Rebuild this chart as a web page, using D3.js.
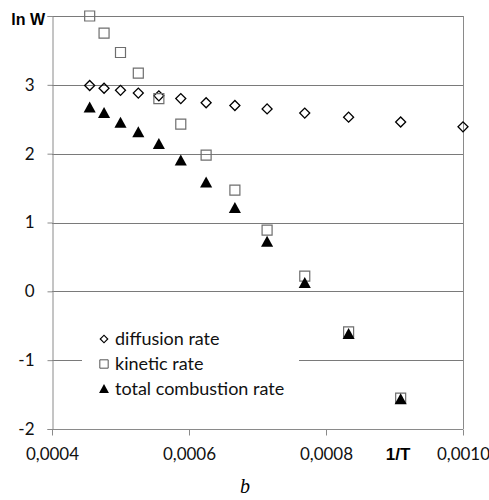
<!DOCTYPE html>
<html>
<head>
<meta charset="utf-8">
<script src="https://cdn.jsdelivr.net/npm/d3@7"></script>
<style>
  body { margin: 0; background: #fff; }
  svg { display: block; }
  text { font-family: Lato, "Open Sans", sans-serif; }
</style>
</head>
<body>
<div id="chart"></div>
<script>
// 1/T values, T = 2200 K ... 1000 K
const invT = [0.000455, 0.000476, 0.000500, 0.000526, 0.000556, 0.000588, 0.000625,
  0.000667, 0.000714, 0.000769, 0.000833, 0.000909, 0.001000];
const diffusionRate = [2.99, 2.95, 2.92, 2.88, 2.84, 2.80, 2.74, 2.70, 2.65, 2.59, 2.53, 2.46, 2.39];
const kineticRate = [4.00, 3.75, 3.47, 3.17, 2.80, 2.43, 1.98, 1.47, 0.89, 0.22, -0.59, -1.55];
const totalRate = [2.67, 2.59, 2.45, 2.31, 2.14, 1.90, 1.58, 1.21, 0.72, 0.12, -0.62, -1.57];
const xTicks = [0.0004, 0.0006, 0.0008, 0.0010];
const yTicks = [-2, -1, 0, 1, 2, 3, 4];
const legendLabels = ['diffusion rate', 'kinetic rate', 'total combustion rate'];

const width = 489;
const height = 500;
const plot = { left: 52, right: 463, top: 16, bottom: 429 };

const x = d3.scaleLinear().domain([0.0004, 0.0010]).range([plot.left, plot.right]);
const y = d3.scaleLinear().domain([-2, 4]).range([plot.bottom, plot.top]);

const svg = d3.select('#chart')
  .append('svg')
  .attr('width', width)
  .attr('height', height);

// gridlines
svg.append('g')
  .selectAll('line')
  .data(yTicks.filter(d => d > -2))
  .enter()
  .append('line')
  .attr('x1', plot.left)
  .attr('x2', plot.right)
  .attr('y1', d => Math.round(y(d)) + 0.5)
  .attr('y2', d => Math.round(y(d)) + 0.5)
  .attr('stroke', '#7a7a7a')
  .attr('stroke-width', 1);

// right border
svg.append('line')
  .attr('x1', plot.right + 0.5).attr('x2', plot.right + 0.5)
  .attr('y1', plot.top).attr('y2', plot.bottom)
  .attr('stroke', '#8a8a8a');

const yAxis = d3.axisLeft(y)
  .tickValues(yTicks)
  .tickSize(5)
  .tickPadding(13)
  .tickFormat(d => d === 4 ? '' : (d < 0 ? '-' + Math.abs(d) : d));

const xAxis = d3.axisBottom(x)
  .tickValues(xTicks)
  .tickSize(6)
  .tickPadding(12)
  .tickFormat(d => d3.format('.4f')(d).replace('.', ','));

const gy = svg.append('g')
  .attr('transform', `translate(${plot.left + 0.5},0)`)
  .call(yAxis);
const gx = svg.append('g')
  .attr('transform', `translate(0,${plot.bottom + 0.5})`)
  .call(xAxis);

[gx, gy].forEach(g => {
  g.select('.domain').attr('stroke', '#8a8a8a');
  g.selectAll('.tick line').attr('stroke', '#8a8a8a');
  g.selectAll('.tick text')
    .attr('fill', '#111')
    .style('font-family', 'Lato, sans-serif')
    .style('font-size', '17px');
});
gx.select('.domain').attr('d', `M${plot.left},0H${plot.right}`);

// legend box (hides the gridline behind it)
const legend = svg.append('g');
legend.append('rect')
  .attr('x', 82).attr('y', 326)
  .attr('width', 217).attr('height', 74)
  .attr('fill', '#fff');

const diamond = d3.symbol().type(d3.symbolSquare).size(50);
const square = d3.symbol().type(d3.symbolSquare).size(100);
const triangle = s => `M0,${-s * 0.55}L${s * 0.55},${s * 0.45}L${-s * 0.55},${s * 0.45}Z`;

// diffusion
svg.append('g')
  .selectAll('path')
  .data(invT.map((t, i) => [t, diffusionRate[i]]))
  .enter()
  .append('path')
  .attr('d', diamond())
  .attr('transform', d => `translate(${x(d[0])},${y(d[1])}) rotate(45)`)
  .attr('fill', 'none')
  .attr('stroke', '#000')
  .attr('stroke-width', 1.3);

// kinetic
svg.append('g')
  .selectAll('path')
  .data(kineticRate.map((v, i) => [invT[i], v]))
  .enter()
  .append('path')
  .attr('d', square())
  .attr('transform', d => `translate(${x(d[0])},${y(d[1])})`)
  .attr('fill', 'none')
  .attr('stroke', '#6e6e6e')
  .attr('stroke-width', 1.2);

// total
svg.append('g')
  .selectAll('path')
  .data(totalRate.map((v, i) => [invT[i], v]))
  .enter()
  .append('path')
  .attr('d', triangle(11))
  .attr('transform', d => `translate(${x(d[0])},${y(d[1])})`)
  .attr('fill', '#000');

// legend entries
const legendY = [339, 364, 389];
legend.append('path')
  .attr('d', d3.symbol().type(d3.symbolSquare).size(28)())
  .attr('transform', `translate(104,${legendY[0]}) rotate(45)`)
  .attr('fill', 'none').attr('stroke', '#000').attr('stroke-width', 1.2);
legend.append('path')
  .attr('d', d3.symbol().type(d3.symbolSquare).size(70)())
  .attr('transform', `translate(104,${legendY[1]})`)
  .attr('fill', 'none').attr('stroke', '#555').attr('stroke-width', 1);
legend.append('path')
  .attr('d', triangle(9))
  .attr('transform', `translate(104,${legendY[2]})`)
  .attr('fill', '#000');

legend.selectAll('text.lbl')
  .data(legendLabels)
  .enter()
  .append('text')
  .attr('class', 'lbl')
  .attr('x', 115)
  .attr('y', (d, i) => legendY[i] + 6)
  .attr('fill', '#111')
  .style('font-size', '18px')
  .text(d => d);

// axis titles
svg.append('text')
  .attr('x', 45).attr('y', 25)
  .attr('text-anchor', 'end')
  .style('font-family', '"Liberation Sans", Arial, sans-serif')
  .style('font-weight', 'bold')
  .style('font-size', '16px')
  .text('ln W');

svg.append('text')
  .attr('x', 398).attr('y', 460)
  .attr('text-anchor', 'middle')
  .style('font-family', '"Liberation Sans", Arial, sans-serif')
  .style('font-weight', 'bold')
  .style('font-size', '17px')
  .text('1/T');

svg.append('text')
  .attr('x', 245).attr('y', 493)
  .attr('text-anchor', 'middle')
  .style('font-family', '"Liberation Serif", "Times New Roman", serif')
  .style('font-style', 'italic')
  .style('font-size', '20px')
  .text('b');
</script>
</body>
</html>
